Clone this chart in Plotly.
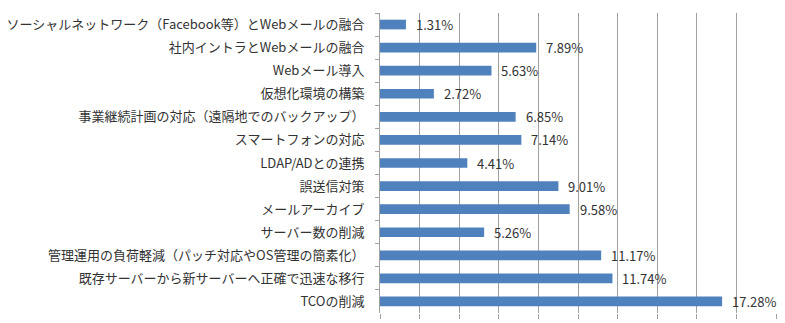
import plotly.graph_objects as go

categories = [
    "ソーシャルネットワーク（Facebook等）とWebメールの融合",
    "社内イントラとWebメールの融合",
    "Webメール導入",
    "仮想化環境の構築",
    "事業継続計画の対応（遠隔地でのバックアップ）",
    "スマートフォンの対応",
    "LDAP/ADとの連携",
    "誤送信対策",
    "メールアーカイブ",
    "サーバー数の削減",
    "管理運用の負荷軽減（パッチ対応やOS管理の簡素化）",
    "既存サーバーから新サーバーへ正確で迅速な移行",
    "TCOの削減",
]
values = [1.31, 7.89, 5.63, 2.72, 6.85, 7.14, 4.41, 9.01, 9.58, 5.26, 11.17, 11.74, 17.28]
labels = [f"{v:.2f}%" for v in values]

FONT = "Noto Sans CJK JP, Noto Sans, sans-serif"

fig = go.Figure(go.Bar(
    x=values, y=categories, orientation="h",
    marker=dict(color="#4F81BD", line=dict(width=0)),
    width=0.42,
    hoverinfo="skip",
))

for v, c, t in zip(values, categories, labels):
    fig.add_annotation(x=v, y=c, text=t, xanchor="left", yanchor="middle",
                       xshift=8, showarrow=False,
                       font=dict(family=FONT, size=13, color="#333333"))

fig.update_layout(
    width=785, height=323,
    margin=dict(l=380, r=9, t=13, b=5),
    paper_bgcolor="white", plot_bgcolor="white",
    showlegend=False,
    font=dict(family=FONT, size=13, color="#333333"),
)
fig.update_xaxes(range=[0, 20], dtick=2, showticklabels=False,
                 showgrid=True, gridcolor="#A0A0A0", gridwidth=1,
                 zeroline=False, showline=False,
                 ticks="outside", ticklen=5, tickcolor="#A0A0A0")
fig.update_yaxes(autorange="reversed", showline=True, linecolor="#A0A0A0",
                 ticks="outside", ticklen=4, tickcolor="#A0A0A0",
                 tickson="boundaries", ticklabelstandoff=12,
                 tickfont=dict(family=FONT, size=13, color="#333333"))

fig.write_html("out.html")
